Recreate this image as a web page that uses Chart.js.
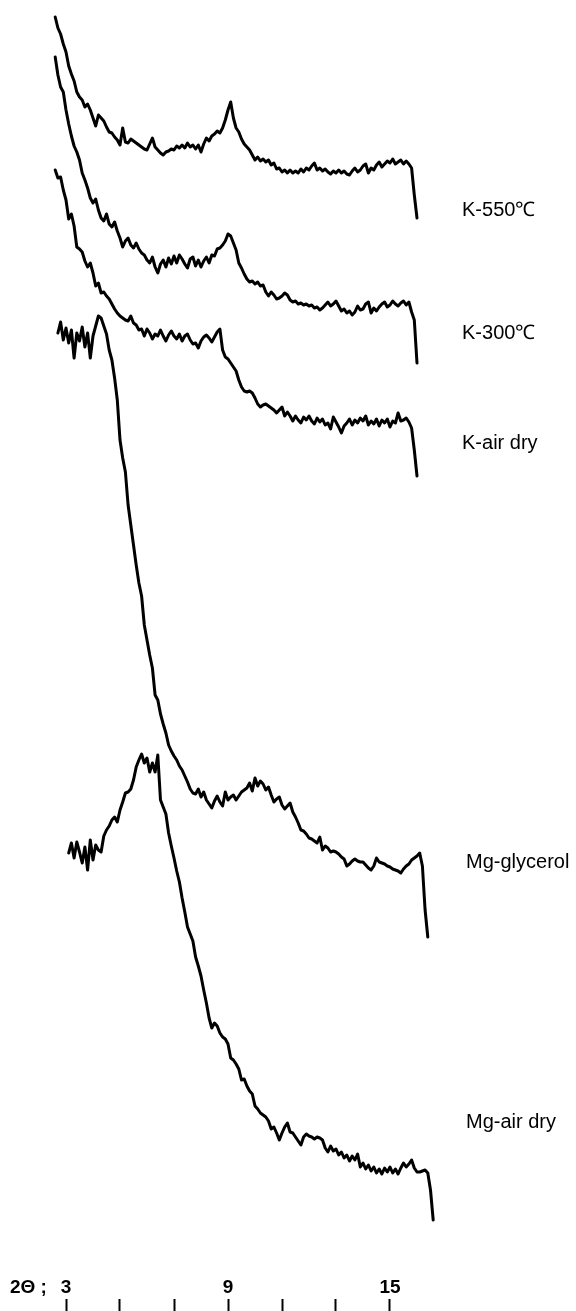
<!DOCTYPE html>
<html><head><meta charset="utf-8">
<script src="https://cdn.jsdelivr.net/npm/chart.js@4.4.1/dist/chart.umd.min.js"></script>
<style>html,body{margin:0;padding:0;background:#fff;overflow:hidden}#c{display:block}</style>
</head><body><canvas id="c" width="576" height="1311"></canvas>
<script>
// XRD patterns, 2θ scan with constant step; intensities in arbitrary (offset) units
const step = 0.1;
const seriesNames = ['K-550℃', 'K-300℃', 'K-air dry', 'Mg-glycerol', 'Mg-air dry'];
const seriesStart = [2.6, 2.6, 2.6, 2.7, 3.1];

const k550 = [1282,1271,1265,1255,1247,1233,1225,1218,1207,1202,1199,1192,1195,1189,1181,1173,1184,1181,1178,1172,
1167,1166,1162,1159,1154,1171,1157,1156,1160,1158,1156,1154,1152,1150,1149,1155,1161,1152,1149,1146,
1144,1147,1148,1150,1149,1153,1151,1154,1151,1156,1152,1154,1150,1154,1147,1155,1161,1158,1163,1165,
1168,1166,1171,1179,1189,1197,1181,1171,1167,1160,1155,1152,1149,1144,1139,1142,1138,1140,1137,1139,
1134,1136,1130,1131,1127,1129,1126,1129,1126,1128,1126,1130,1127,1131,1129,1133,1136,1129,1131,1128,
1130,1127,1125,1128,1126,1129,1126,1128,1125,1124,1128,1131,1127,1129,1133,1135,1126,1131,1129,1134,
1137,1132,1135,1138,1136,1140,1135,1137,1139,1135,1138,1135,1131,1104,1081];

const k300 = [1242,1224,1212,1207,1189,1175,1163,1153,1147,1139,1126,1119,1111,1101,1096,1100,1089,1081,1078,1085,
1075,1072,1077,1068,1061,1052,1058,1061,1054,1051,1056,1050,1046,1044,1039,1036,1042,1032,1026,1035,
1039,1032,1041,1035,1043,1036,1044,1040,1035,1031,1040,1042,1033,1039,1032,1038,1042,1036,1044,1043,
1050,1051,1054,1058,1065,1063,1056,1049,1036,1031,1025,1020,1017,1018,1015,1017,1013,1014,1007,1003,
1007,1004,1000,1001,1003,1006,1004,999,997,998,995,996,994,995,993,994,991,992,989,991,
994,997,993,995,998,993,988,990,986,988,984,987,993,989,990,995,997,986,991,988,
992,995,997,992,994,998,995,993,996,998,994,997,987,979,936];

const kAirDry = [1129,1121,1122,1109,1099,1080,1085,1073,1052,1050,1047,1038,1032,1036,1026,1013,1016,1006,1007,1003,
1000,995,990,986,983,981,979,978,983,976,974,969,970,963,970,966,960,965,963,969,
963,958,964,968,963,960,965,958,963,965,959,955,956,951,958,962,964,961,957,962,
967,970,949,942,940,936,932,928,919,912,908,907,908,906,901,895,892,894,895,893,
891,889,886,889,892,883,887,883,878,883,879,876,882,879,883,878,875,881,877,880,
874,876,870,882,877,872,866,873,876,880,874,879,876,881,878,883,874,878,875,880,
873,879,876,880,872,878,876,886,878,879,881,877,871,849,823];

const mgGlycerol = [966,977,959,971,956,969,941,966,958,972,952,966,941,963,973,983,981,973,965,949,
939,921,899,859,841,827,794,774,754,734,716,703,674,659,644,631,604,599,585,575,
566,554,548,543,539,533,529,523,517,510,506,505,510,502,507,499,495,491,498,503,
497,493,507,499,502,504,499,503,507,509,511,516,508,521,513,518,515,509,512,504,
497,500,502,494,490,493,496,487,482,476,469,468,465,461,460,458,456,462,449,453,
451,447,448,447,445,442,440,433,435,438,440,438,437,437,434,431,429,433,441,437,
436,435,433,432,430,429,428,426,430,433,435,439,441,443,446,433,389,362];

const mgAirDry = [446,456,441,457,447,436,452,429,459,439,454,449,447,463,469,473,479,482,477,489,
497,506,507,510,519,532,539,545,536,541,527,536,527,544,499,492,485,466,453,441,
428,417,401,387,372,365,358,342,333,323,309,296,281,271,276,273,266,262,260,255,
241,239,235,230,219,220,213,208,205,193,190,186,184,182,178,170,172,166,159,166,
172,176,167,166,162,158,154,162,165,163,162,160,162,161,159,151,147,153,148,150,
144,147,141,144,138,143,139,145,132,136,130,134,128,132,126,130,125,131,127,132,
126,130,125,131,136,132,135,139,131,127,127,128,129,126,109,79];

const tickValues = [3, 5, 7, 9, 11, 13, 15];
const tickLabels = ['3', '', '', '9', '', '', '15'];
const axisLabel = '2Θ ;';

const seriesValues = [k550, k300, kAirDry, mgGlycerol, mgAirDry];
function toPoints(start, vals) {
  return vals.map((v, i) => ({ x: +(start + i * step).toFixed(2), y: v }));
}

// label anchors (data coords) for the series names at the right
const labelAnchors = [[17.667, 1089], [17.667, 966], [17.667, 856], [17.815, 437], [17.815, 177]];

const seriesLabelPlugin = {
  id: 'seriesLabels',
  afterDatasetsDraw(chart) {
    const { ctx, scales: { x, y } } = chart;
    ctx.save();
    ctx.fillStyle = '#000';
    ctx.font = '20px "Liberation Sans", Arial, sans-serif';
    ctx.textAlign = 'left';
    ctx.textBaseline = 'middle';
    seriesNames.forEach((n, i) => {
      ctx.fillText(n, x.getPixelForValue(labelAnchors[i][0]), y.getPixelForValue(labelAnchors[i][1]));
    });
    // axis prefix "2Θ ;"
    ctx.font = 'bold 19px "Liberation Sans", Arial, sans-serif';
    ctx.fillText(axisLabel, 10, x.top - 11.4);
    ctx.restore();
  }
};

new Chart(document.getElementById('c'), {
  type: 'line',
  data: {
    datasets: seriesValues.map((vals, i) => ({
      label: seriesNames[i],
      data: toPoints(seriesStart[i], vals),
      borderColor: '#000',
      borderWidth: 3,
      pointRadius: 0,
      tension: 0,
      fill: false,
      borderJoinStyle: 'round',
      borderCapStyle: 'round'
    }))
  },
  options: {
    responsive: false,
    animation: false,
    devicePixelRatio: 1,
    layout: { padding: 0 },
    plugins: { legend: { display: false }, tooltip: { enabled: false }, title: { display: false } },
    scales: {
      x: {
        type: 'linear',
        position: 'bottom',
        min: 3 - 66 / 27,
        max: 3 + 510 / 27,
        afterBuildTicks: (s) => { s.ticks = tickValues.map(v => ({ value: v })); },
        grid: { display: true, drawOnChartArea: false, drawTicks: true, tickLength: 12, tickWidth: 2, tickColor: '#000' },
        border: { display: false },
        ticks: {
          mirror: true, padding: 0, autoSkip: false, maxRotation: 0, minRotation: 0,
          color: '#000',
          font: { family: '"Liberation Sans", Arial, sans-serif', size: 19, weight: 'bold' },
          callback: (v) => tickLabels[tickValues.indexOf(v)]
        }
      },
      y: { display: false, min: 0, max: 1299 }
    }
  },
  plugins: [seriesLabelPlugin]
});
</script>
</body></html>
